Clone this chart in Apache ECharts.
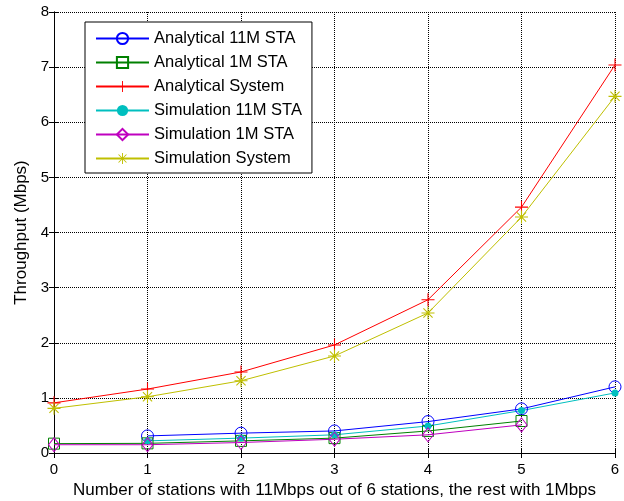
<!DOCTYPE html>
<html>
<head>
<meta charset="utf-8">
<script src="https://cdn.jsdelivr.net/npm/echarts@6/dist/echarts.min.js"></script>
<style>
  html, body { margin: 0; padding: 0; background: #fff; }
  #chart { width: 624px; height: 501px; }
</style>
</head>
<body>
<div id="chart"></div>
<script>
// Number of 11 Mbps stations (out of 6)
const stations = [0, 1, 2, 3, 4, 5, 6];

// Throughput in Mbps; null where the station class does not exist
const analytical11M = [null, 0.31, 0.36, 0.40, 0.57, 0.80, 1.20];
const analytical1M  = [0.17, 0.175, 0.22, 0.27, 0.40, 0.58, null];
const analyticalSys = [0.91, 1.16, 1.47, 1.96, 2.78, 4.46, 7.04];
const simulation11M = [null, 0.22, 0.27, 0.33, 0.49, 0.77, 1.09];
const simulation1M  = [0.15, 0.15, 0.19, 0.25, 0.33, 0.51, null];
const simulationSys = [0.81, 1.02, 1.31, 1.76, 2.54, 4.28, 6.47];

const yTicks = [0, 1, 2, 3, 4, 5, 6, 7, 8];

const FONT = 'Liberation Sans, Arial, sans-serif';

const plusPath = 'path://M0,5.5 H12 V6.5 H0 Z M5.5,0 H6.5 V12 H5.5 Z';
const starPath = 'path://M0,5.5 H12 V6.5 H0 Z M5.5,0 H6.5 V12 H5.5 Z ' +
  'M1.4,2.1 L2.1,1.4 L10.6,9.9 L9.9,10.6 Z M9.9,1.4 L10.6,2.1 L2.1,10.6 L1.4,9.9 Z';

function pairs(vals) {
  return stations.map((x, i) => [x, vals[i]]).filter(p => p[1] !== null);
}

function series(name, vals, color, symbol, size, hollow) {
  return {
    name: name,
    type: 'line',
    data: pairs(vals),
    symbol: symbol,
    symbolSize: size,
    showAllSymbol: true,
    color: color,
    lineStyle: { color: color, width: 1 },
    itemStyle: hollow
      ? { color: 'rgba(255,255,255,0)', borderColor: color, borderWidth: 1 }
      : { color: color, borderWidth: 0 },
    emphasis: { disabled: true },
    animation: false,
    z: 3
  };
}

const chart = echarts.init(document.getElementById('chart'), null, { renderer: 'canvas' });

const axisLine = { show: true, lineStyle: { color: '#000', width: 1 } };
const splitLine = { show: true, lineStyle: { color: '#000', type: [1, 1], width: 1 } };
const tick = { show: true, inside: true, length: 5, lineStyle: { color: '#000' } };

chart.setOption({
  backgroundColor: '#fff',
  animation: false,
  textStyle: { fontFamily: FONT },
  grid: { left: 54, right: 9, top: 12, bottom: 48, containLabel: false, outerBoundsMode: 'none' },
  legend: {
    orient: 'vertical',
    left: 85,
    top: 22,
    padding: [8, 10, 6, 10],
    itemGap: 7,
    itemWidth: 53,
    itemHeight: 14,
    backgroundColor: '#fff',
    borderColor: '#000',
    borderWidth: 1,
    borderRadius: 0,
    textStyle: { fontFamily: FONT, fontSize: 16.5, color: '#000', padding: [0, 0, 0, 0] },
    selectedMode: false
  },
  xAxis: [{
    type: 'value', min: 0, max: 6, interval: 1,
    axisLine: axisLine,
    axisTick: tick,
    axisLabel: { color: '#000', fontSize: 15, margin: 9, fontFamily: FONT },
    splitLine: splitLine,
    name: 'Number of stations with 11Mbps out of 6 stations, the rest with 1Mbps',
    nameLocation: 'middle',
    nameGap: 28,
    nameTextStyle: { color: '#000', fontSize: 17, fontFamily: FONT }
  }, {
    type: 'value', min: 0, max: 6, interval: 1, position: 'top',
    axisLine: axisLine,
    axisTick: tick,
    axisLabel: { show: false },
    splitLine: { show: false }
  }],
  yAxis: [{
    type: 'value', min: 0, max: 8, interval: 1,
    axisLine: axisLine,
    axisTick: tick,
    axisLabel: {
      color: '#000', fontSize: 15, margin: 5, fontFamily: FONT,
      formatter: v => (yTicks.indexOf(v) >= 0 ? String(v) : '')
    },
    splitLine: splitLine,
    name: 'Throughput (Mbps)',
    nameLocation: 'middle',
    nameGap: 24,
    nameTextStyle: { color: '#000', fontSize: 17, fontFamily: FONT }
  }, {
    type: 'value', min: 0, max: 8, interval: 1, position: 'right',
    axisLine: axisLine,
    axisTick: tick,
    axisLabel: { show: false },
    splitLine: { show: false }
  }],
  series: [
    series('Analytical 11M STA', analytical11M, '#0000ff', 'circle', 12, true),
    series('Analytical 1M STA', analytical1M, '#008000', 'rect', 11, true),
    series('Analytical System', analyticalSys, '#ff0000', plusPath, 13, false),
    series('Simulation 11M STA', simulation11M, '#00bfbf', 'circle', 7, false),
    series('Simulation 1M STA', simulation1M, '#bf00bf', 'diamond', [11, 14], true),
    series('Simulation System', simulationSys, '#bfbf00', starPath, 13, false)
  ]
});
</script>
</body>
</html>
